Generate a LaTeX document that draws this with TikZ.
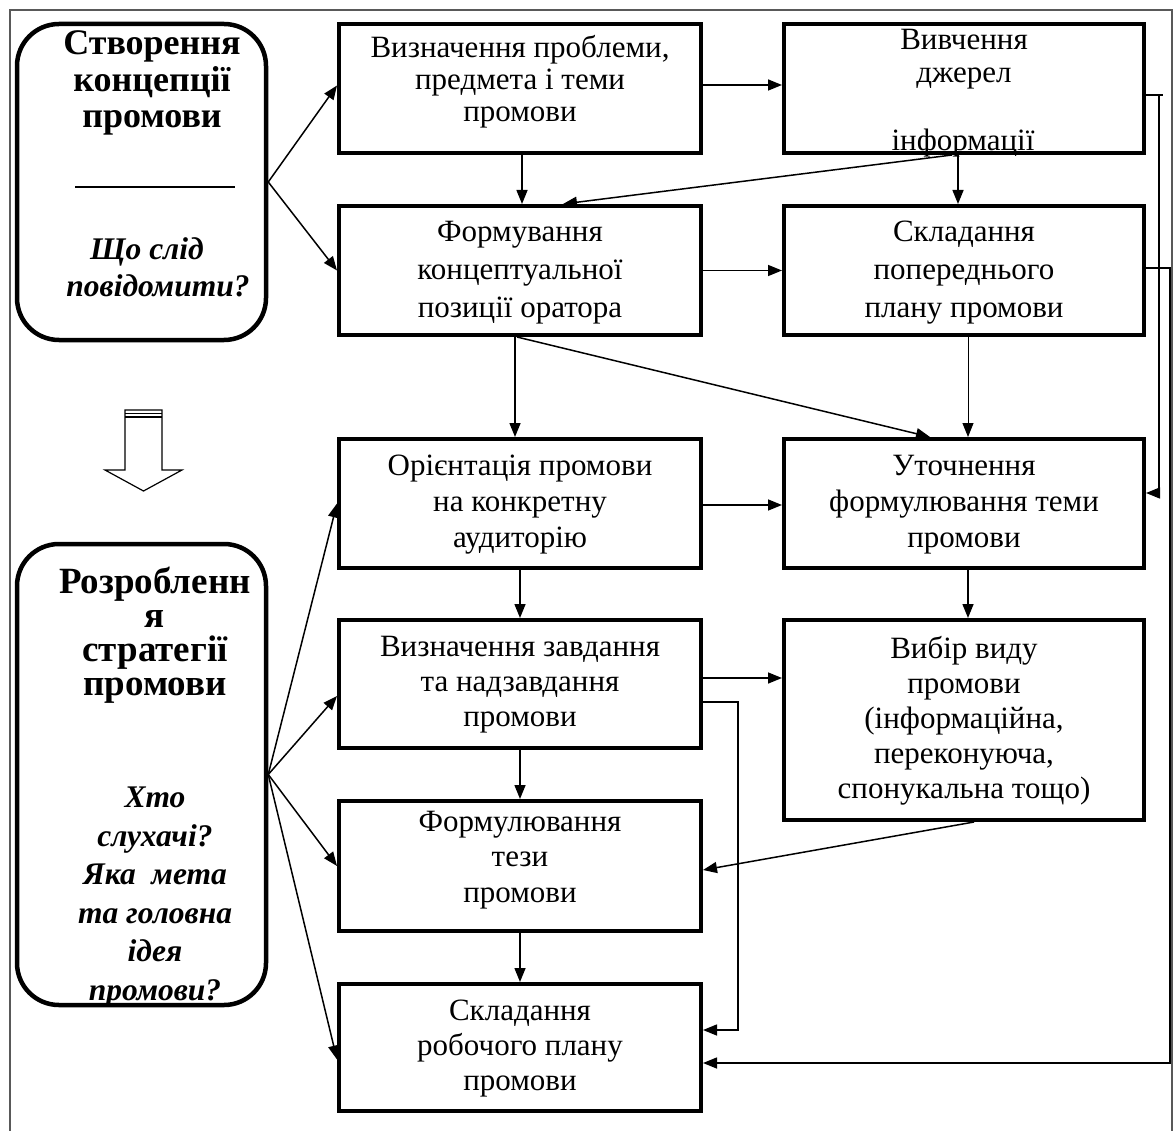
\documentclass[tikz,border=0pt]{standalone}
\usepackage{fontspec}
\setmainfont{Liberation Serif}
\usetikzlibrary{arrows.meta,calc}
\tikzset{
  box/.style={draw, line width=4pt, minimum width=362pt, minimum height=129pt, inner sep=0pt},
  rbox/.style={draw, line width=4.5pt, rounded corners=42pt, minimum width=249pt, inner sep=0pt},
  txt/.style={align=center, inner sep=0pt, font=\fontsize{31}{36}\selectfont},
  btxt/.style={align=center, inner sep=0pt, font=\fontsize{37}{36}\selectfont\bfseries},
  itxt/.style={align=center, inner sep=0pt, font=\fontsize{31.5}{37}\selectfont\bfseries\itshape},
  conn/.style={line width=1.5pt, -{Triangle[length=14pt,width=11pt]}},
  thin conn/.style={line width=1pt, -{Triangle[length=14pt,width=11pt]}},
  plain/.style={line width=1.5pt},
  frame/.style={line width=1.5pt, draw=black!65},
}
\begin{document}
\begin{tikzpicture}[x=1pt,y=-1pt]
\useasboundingbox (0,0) rectangle (1174,1131);
% outer frame
\draw[frame] (10,1131) -- (10,10) -- (1172,10) -- (1172,1131);

% left rounded boxes
\node[rbox, minimum height=316pt] (A) at (141.5,182) {};
\node[rbox, minimum height=461pt] (B) at (141.5,774.5) {};
\node[btxt, font=\fontsize{36}{36.5}\selectfont\bfseries] (At1) at (152,83) {Створення\\концепції\\промови};
\coordinate (sepL) at (75,187);
\coordinate (sepR) at (235,187);
\draw[plain] (sepL) -- (sepR);
\node[itxt] (At2) at (158,267) {Що слід\hspace*{22pt}\\повідомити?};
\node[btxt, font=\fontsize{37}{34}\selectfont\bfseries] (Bt1) at (155,635) {Розробленн\\я\\стратегії\\промови};
\node[itxt, font=\fontsize{31.5}{38.6}\selectfont\bfseries\itshape] (Bt2) at (155,897) {Хто\\слухачі?\\Яка~ мета\\та головна\\ідея\\промови?};

% hollow down arrow
\draw[line width=1.2pt] (125,470) -- (125,410) -- (162,410) -- (162,470) -- (182,470) -- (143.5,491) -- (105,470) -- cycle;
\draw[line width=1.2pt] (125,413.5) -- (162,413.5);
\draw[line width=1.2pt] (125,417) -- (162,417);

% centre column
\node[box] (C1) at (520,88.5) {};
\node[box] (C2) at (520,270.5) {};
\node[box] (C3) at (520,503.5) {};
\node[box, minimum height=128pt] (C4) at (520,684) {};
\node[box, minimum height=130pt] (C5) at (520,866) {};
\node[box, minimum height=127pt] (C6) at (520,1047.5) {};
% right column
\node[box, minimum width=360pt] (R1) at (964,88.5) {};
\node[box, minimum width=360pt] (R2) at (964,270.5) {};
\node[box, minimum width=360pt] (R3) at (964,503.5) {};
\node[box, minimum width=360pt, minimum height=200pt] (R4) at (964,720) {};

% texts
\node[txt, font=\fontsize{31}{32}\selectfont] (C1t) at ([yshift=6.5pt]C1.center) {Визначення проблеми,\\предмета і теми\\промови};
\node[txt, font=\fontsize{31}{33}\selectfont] (R1t) at (964,59.5) {Вивчення\\джерел};
\node[txt] (R1t2) at (963,143) {інформації};
\node[txt, font=\fontsize{31}{38}\selectfont] (C2t) at ([yshift=-2pt]C2.center) {Формування\\концептуальної\\позиції оратора};
\node[txt, font=\fontsize{31}{38}\selectfont] (R2t) at ([yshift=-2pt]R2.center) {Складання\\попереднього\\плану промови};
\node[txt] (C3t) at ([yshift=-1pt]C3.center) {Орієнтація промови\\на конкретну\\аудиторію};
\node[txt] (R3t) at ([yshift=-1pt]R3.center) {Уточнення\\формулювання теми\\промови};
\node[txt, font=\fontsize{31}{35}\selectfont] (C4t) at ([yshift=-1pt]C4.center) {Визначення завдання\\та надзавдання\\промови};
\node[txt, font=\fontsize{31}{35}\selectfont] (R4t) at ([yshift=-1pt]R4.center) {Вибір виду\\промови\\(інформаційна,\\переконуюча,\\спонукальна тощо)};
\node[txt, font=\fontsize{31}{35.5}\selectfont] (C5t) at ([yshift=6pt]C5.center) {Формулювання\\тези\\промови};
\node[txt, font=\fontsize{31}{35}\selectfont] (C6t) at ([yshift=-1pt]C6.center) {Складання\\робочого плану\\промови};

% connectors from left boxes
\draw[conn] (A.east) -- ([yshift=3pt]C1.west);
\draw[conn] (A.east) -- (C2.west);
\draw[conn] (B.east) -- (C3.west);
\draw[conn] (B.east) -- ([yshift=-12pt]C4.west);
\draw[conn] (B.east) -- (C5.west);
\draw[conn] (B.east) -- ([yshift=-12pt]C6.west);

% main flow
\draw[conn] ([yshift=3.5pt]C1.east) -- ([yshift=3.5pt]R1.west);
\draw[conn] ([xshift=2pt]C1.south) -- ([xshift=2pt]C2.north);
\draw[conn] ([xshift=-6pt]R1.south) -- ([xshift=-6pt]R2.north);
\draw[conn] ([xshift=-12pt]R1.south) -- ([xshift=43pt]C2.north);
\draw[conn] (C2.east) -- (R2.west);
\draw[conn] ([xshift=-5pt]C2.south) -- ([xshift=-5pt]C3.north);
\draw[conn] ([xshift=-3pt]C2.south) -- ([xshift=-34pt]R3.north);
\draw[thin conn] ([xshift=4pt]R2.south) -- ([xshift=4pt]R3.north);
\draw[conn] ([yshift=-1.5pt]C3.east) -- ([yshift=-1.5pt]R3.west);
\draw[conn] ([xshift=4pt]R3.south) -- ([xshift=4pt]R4.north);
\draw[conn] (C3.south) -- (C4.north);
\draw[conn] ([yshift=6pt]C4.east) -- ([yshift=42pt]R4.west);
\draw[conn] ([yshift=-18pt]C4.east) -- ++(35pt,0) |- ([yshift=17.5pt]C6.east);
\draw[conn] ([xshift=10pt]R4.south) -- ([yshift=-4pt]C5.east);
\draw[conn] (C4.south) -- (C5.north);
\draw[conn] (C5.south) -- (C6.north);

% right-hand return lines
\coordinate (k1) at (1163,95);
\draw[plain] ([yshift=-6.5pt]R1.east) -- (k1);
\draw[conn] (1159,95) -- (1159,493) -- ([yshift=10.5pt]R3.east);
\draw[conn] ([yshift=2.5pt]R2.east) -| (1170,1063) -- ([yshift=-15.5pt]C6.east);
\end{tikzpicture}
\end{document}
